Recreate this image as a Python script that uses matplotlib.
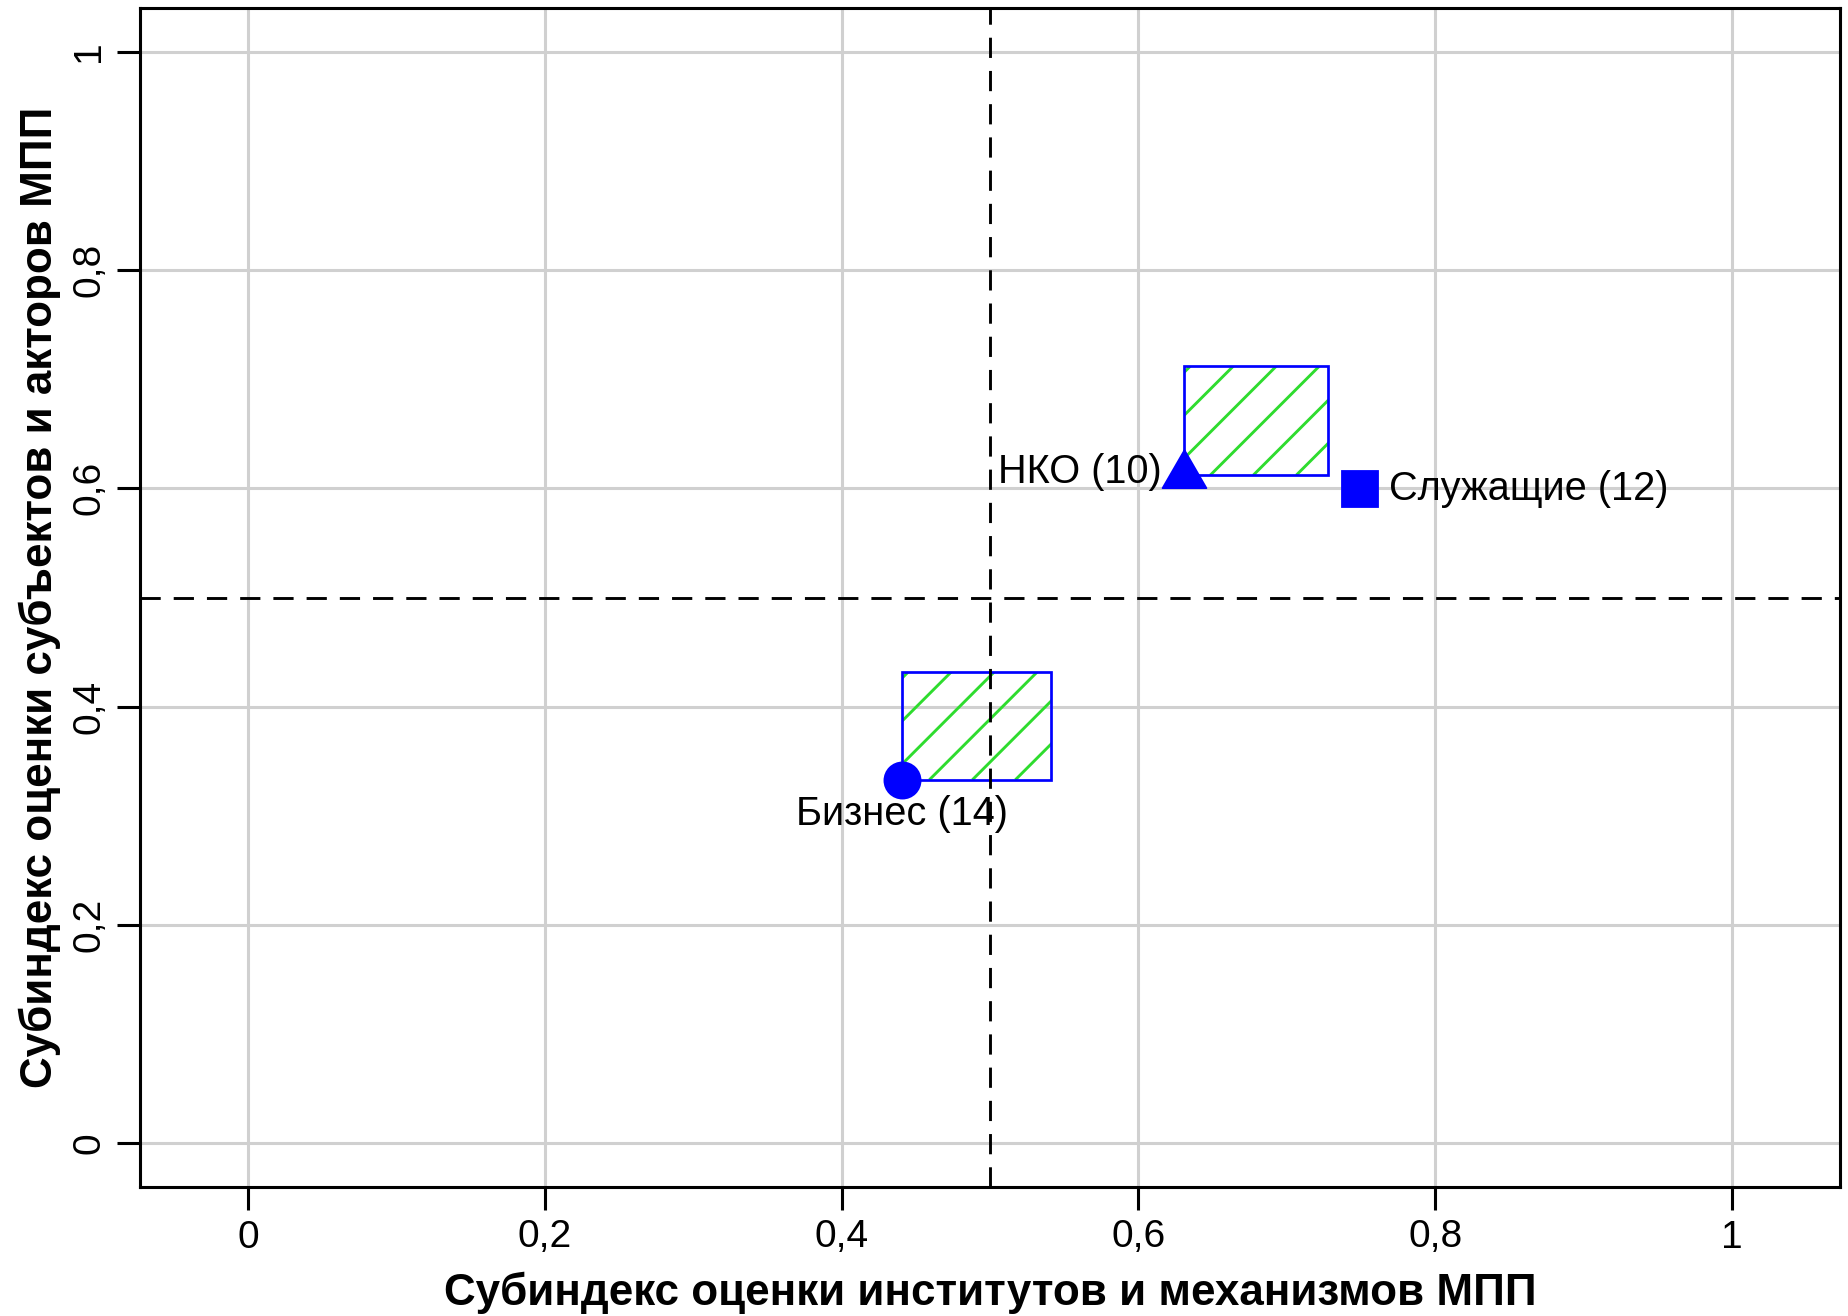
import matplotlib
matplotlib.use('Agg')
import matplotlib.pyplot as plt
from matplotlib.patches import Rectangle

# Data
groups = ['Бизнес (14)', 'НКО (10)', 'Служащие (12)']
inst_index = [0.441, 0.631, 0.749]
actor_index = [0.333, 0.612, 0.599]

# shaded boxes anchored at Бизнес and НКО points
box_x = [0.441, 0.631]
box_y = [0.333, 0.612]
box_w = [0.100, 0.097]
box_h = [0.099, 0.100]

ticks = [0, 0.2, 0.4, 0.6, 0.8, 1.0]
tick_labels = ['0', '0,2', '0,4', '0,6', '0,8', '1']

plt.rcParams['font.family'] = ['Liberation Sans', 'DejaVu Sans']

DPI = 130
W, H = 1848, 1316
fig = plt.figure(figsize=(W / DPI, H / DPI), dpi=DPI)
# axes box in pixels: left 140, right 1840, top 8, bottom 1187
ax = fig.add_axes([140 / W, (H - 1187) / H, 1700 / W, 1179 / H])

ax.set_xlim(-0.0728, 1.0728)
ax.set_ylim(-0.040, 1.040)

# grid
for t in ticks:
    ax.axvline(t, color='#d0d0d0', lw=1.7, zorder=0)
    ax.axhline(t, color='#d0d0d0', lw=1.7, zorder=0)


def hatch_box(ax, x0, y0, w, h, spacing=43, phase=6):
    """Box with sparse 45 degree hatching (R style density), clipped to the box."""
    box = Rectangle((x0, y0), w, h, facecolor='none', edgecolor='#0000ff',
                    lw=1.5, zorder=2)
    ax.add_patch(box)
    tr = ax.transData
    inv = tr.inverted()
    px0, py0 = tr.transform((x0, y0))
    px1, py1 = tr.transform((x0 + w, y0 + h))
    ph = py1 - py0
    off = phase - ph
    while off < (px1 - px0):
        p = inv.transform([(px0 + off, py0), (px0 + off + ph, py1)])
        ln, = ax.plot(p[:, 0], p[:, 1], color='#2edc2e', lw=1.6, zorder=1,
                      solid_capstyle='butt')
        ln.set_clip_path(box)
        off += spacing


for bx, by, bw, bh in zip(box_x, box_y, box_w, box_h):
    hatch_box(ax, bx, by, bw, bh)

# dashed mid lines
ax.axvline(0.5, color='black', lw=1.6, linestyle=(0, (7, 4.5)), zorder=3)
ax.axhline(0.5, color='black', lw=1.6, linestyle=(0, (7, 4.5)), zorder=3)

# points (triangle with centroid on the point, like R's pch 17)
tri = [(0, 2), (-1.732, -1), (1.732, -1), (0, 2)]
ax.plot(inst_index[0], actor_index[0], marker='o', ms=20, color='#0000ff', ls='none', zorder=4)
ax.plot(inst_index[1], actor_index[1], marker=tri, ms=28, color='#0000ff', ls='none', zorder=4)
ax.plot(inst_index[2], actor_index[2], marker='s', ms=19.4, color='#0000ff', ls='none', zorder=4)

lab_fs = 22
ax.annotate(groups[0], (inst_index[0], actor_index[0]), xytext=(0, -19),
            textcoords='offset points', ha='center', va='center', fontsize=lab_fs, zorder=5)
ax.annotate(groups[1], (inst_index[1], actor_index[1]), xytext=(-12.5, 2),
            textcoords='offset points', ha='right', va='center', fontsize=lab_fs, zorder=5)
ax.annotate(groups[2], (inst_index[2], actor_index[2]), xytext=(16.5, 0),
            textcoords='offset points', ha='left', va='center', fontsize=lab_fs, zorder=5)

# axes styling
ax.set_xticks(ticks)
ax.set_xticklabels(tick_labels, fontsize=21.5)
ax.set_yticks(ticks)
ax.set_yticklabels(tick_labels, fontsize=21.5, rotation=90, va='center')
ax.tick_params(length=13, width=1.7, pad=5, direction='out')
for sp in ax.spines.values():
    sp.set_linewidth(1.7)

ax.set_xlabel('Субиндекс оценки институтов и механизмов МПП', fontsize=24.4,
              fontweight='bold')
ax.set_ylabel('Субиндекс оценки субъектов и акторов МПП', fontsize=24.4,
              fontweight='bold')
ax.xaxis.set_label_coords(0.5, (1187 - 1305) / 1179)
ax.xaxis.label.set_va('baseline')
ax.yaxis.set_label_coords((40 - 140) / 1700, 0.5)
ax.yaxis.label.set_va('center')

fig.savefig('out.png', dpi=DPI)
